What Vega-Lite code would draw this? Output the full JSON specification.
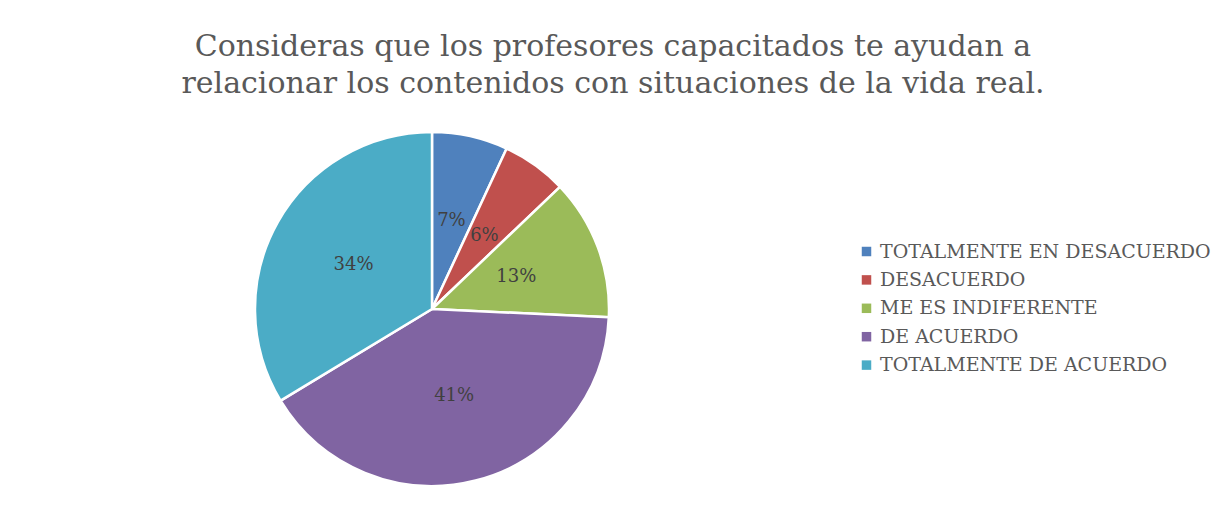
{
  "$schema": "https://vega.github.io/schema/vega-lite/v6.json",
  "width": 864,
  "height": 354,
  "autosize": {"type": "none"},
  "padding": {"left": 0, "top": 132, "right": 362, "bottom": 20},
  "background": "white",
  "title": {
    "text": ["Consideras que los profesores capacitados te ayudan a", "relacionar los contenidos con situaciones de la vida real."],
    "font": "DejaVu Serif",
    "fontSize": 30,
    "fontWeight": "normal",
    "color": "#595959",
    "anchor": "middle",
    "dx": 181,
    "lineHeight": 37,
    "offset": 28
  },
  "data": {
    "values": [
      {"categoria": "TOTALMENTE EN DESACUERDO", "porcentaje": 0.07, "orden": 1},
      {"categoria": "DESACUERDO", "porcentaje": 0.06, "orden": 2},
      {"categoria": "ME ES INDIFERENTE", "porcentaje": 0.13, "orden": 3},
      {"categoria": "DE ACUERDO", "porcentaje": 0.41, "orden": 4},
      {"categoria": "TOTALMENTE DE ACUERDO", "porcentaje": 0.34, "orden": 5}
    ]
  },
  "encoding": {
    "theta": {"field": "porcentaje", "type": "quantitative", "stack": true},
    "order": {"field": "orden", "type": "quantitative"},
    "color": {
      "field": "categoria",
      "type": "nominal",
      "scale": {
        "domain": ["TOTALMENTE EN DESACUERDO", "DESACUERDO", "ME ES INDIFERENTE", "DE ACUERDO", "TOTALMENTE DE ACUERDO"],
        "range": ["#4F81BD", "#C0504D", "#9BBB59", "#8064A2", "#4BACC6"]
      },
      "legend": {
        "title": null,
        "orient": "none",
        "legendX": 857,
        "legendY": 110,
        "padding": 0,
        "symbolType": "square",
        "symbolSize": 90,
        "symbolStrokeWidth": 0,
        "symbolOpacity": 1,
        "labelFont": "DejaVu Serif",
        "labelFontSize": 19,
        "labelColor": "#595959",
        "labelOffset": 4,
        "rowPadding": 8.4,
        "labelLimit": 400
      }
    }
  },
  "layer": [
    {
      "mark": {"type": "arc", "outerRadius": 177, "stroke": "white", "strokeWidth": 2.5}
    },
    {
      "mark": {"type": "text", "radius": 90, "font": "DejaVu Serif", "fontSize": 18},
      "encoding": {
        "text": {"field": "porcentaje", "type": "quantitative", "format": ".0%"},
        "color": {"value": "#404040"}
      }
    }
  ]
}
